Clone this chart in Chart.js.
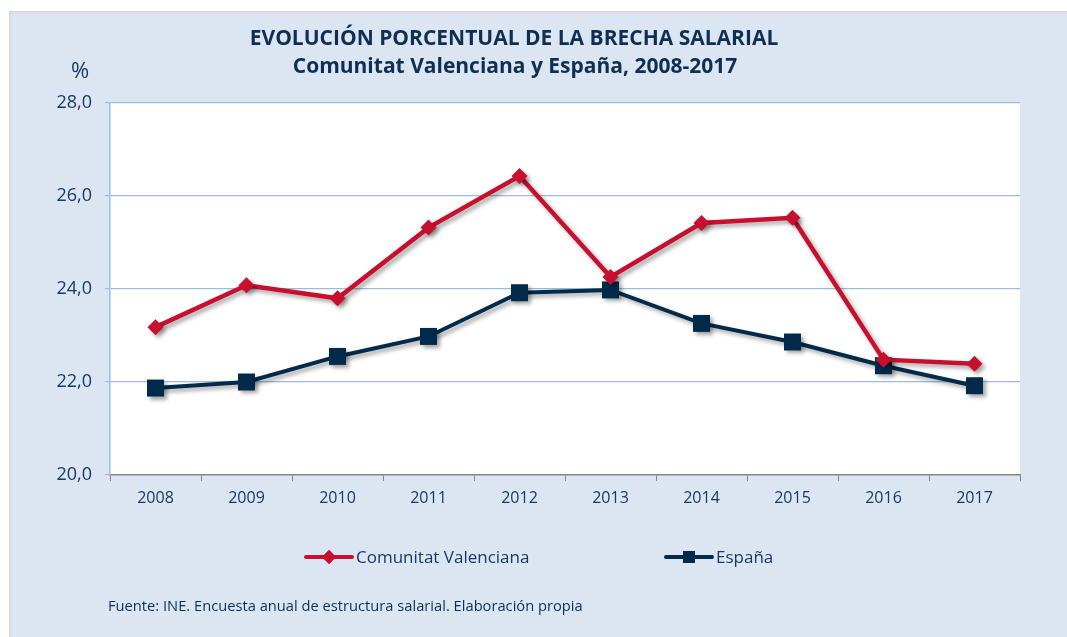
<!DOCTYPE html>
<html>
<head>
<meta charset="utf-8">
<script src="https://cdn.jsdelivr.net/npm/chart.js@4/dist/chart.umd.min.js"></script>
<style>
  html, body { margin: 0; padding: 0; background: #ffffff; }
  #wrap { width: 1067px; height: 637px; position: relative; }
  canvas { display: block; }
</style>
</head>
<body>
<div id="wrap"><canvas id="c" width="1067" height="637"></canvas></div>
<script>
const years = ['2008','2009','2010','2011','2012','2013','2014','2015','2016','2017'];
const comunitatValenciana = [23.18, 24.08, 23.80, 25.32, 26.43, 24.26, 25.42, 25.53, 22.48, 22.39];
const espana = [21.87, 22.00, 22.55, 22.98, 23.92, 23.98, 23.26, 22.86, 22.35, 21.92];
const yTicks = [20, 22, 24, 26, 28];
const titleLines = ['EVOLUCIÓN PORCENTUAL DE LA BRECHA SALARIAL', 'Comunitat Valenciana y España, 2008-2017'];
const yUnit = '%';
const sourceNote = 'Fuente: INE. Encuesta anual de estructura salarial. Elaboración propia';
const seriesNames = ['Comunitat Valenciana', 'España'];

const RED = '#c8102e';
const NAVY = '#022a4b';
const TEXT = '#1b3763';
const PANEL = '#dce6f2';
const GRID = '#9cbbe0';

const decor = {
  id: 'decor',
  beforeDraw(chart) {
    const ctx = chart.ctx, a = chart.chartArea;
    ctx.save();
    ctx.fillStyle = '#ffffff';
    ctx.fillRect(0, 0, chart.width, chart.height);
    ctx.fillStyle = '#d9d9d9';
    ctx.fillRect(9, 11, chart.width - 9, chart.height - 11);
    ctx.fillStyle = PANEL;
    ctx.fillRect(11, 13, chart.width - 11, chart.height - 13);
    ctx.fillStyle = '#ffffff';
    ctx.fillRect(a.left, a.top, a.right - a.left, a.bottom - a.top);
    ctx.restore();
  },
  beforeDatasetDraw(chart) {
    const ctx = chart.ctx;
    ctx.save();
    ctx.shadowColor = 'rgba(0,0,0,0.35)';
    ctx.shadowBlur = 4;
    ctx.shadowOffsetX = 3;
    ctx.shadowOffsetY = 3;
  },
  afterDatasetDraw(chart) {
    chart.ctx.restore();
  },
  afterDraw(chart) {
    const ctx = chart.ctx;
    ctx.save();
    // Title
    ctx.fillStyle = '#0f2f52';
    ctx.textAlign = 'center';
    ctx.textBaseline = 'middle';
    ctx.font = 'bold 21px "Open Sans", sans-serif';
    ctx.fillText(titleLines[0], 514, 39);
    ctx.fillText(titleLines[1], 515, 67);
    // unit
    ctx.fillStyle = TEXT;
    ctx.font = '22px "Open Sans", sans-serif';
    ctx.fillText(yUnit, 80, 72);
    // legend
    const items = [
      { x: 306, name: seriesNames[0], color: RED, style: 'rectRot', r: 7 },
      { x: 666, name: seriesNames[1], color: NAVY, style: 'rect', r: 8.5 }
    ];
    const ly = 557;
    items.forEach(it => {
      ctx.strokeStyle = it.color;
      ctx.lineWidth = 4;
      ctx.lineCap = 'round';
      ctx.beginPath();
      ctx.moveTo(it.x, ly);
      ctx.lineTo(it.x + 46, ly);
      ctx.stroke();
      ctx.fillStyle = it.color;
      Chart.helpers.drawPoint(ctx, { pointStyle: it.style, radius: it.r, borderWidth: 0 }, it.x + 23, ly);
      ctx.fill();
      ctx.fillStyle = TEXT;
      ctx.textAlign = 'left';
      ctx.font = '17px "Open Sans", sans-serif';
      ctx.fillText(it.name, it.x + 50, ly + 1);
    });
    // source
    ctx.fillStyle = '#0f2f52';
    ctx.font = '14.7px "Open Sans", sans-serif';
    ctx.fillText(sourceNote, 108, 607);
    ctx.restore();
  }
};

new Chart(document.getElementById('c'), {
  type: 'line',
  data: {
    labels: years,
    datasets: [
      {
        label: seriesNames[0],
        data: comunitatValenciana,
        borderColor: RED,
        backgroundColor: RED,
        borderWidth: 4.5,
        pointStyle: 'rectRot',
        pointRadius: 8,
        pointHoverRadius: 8,
        pointBorderWidth: 0,
        tension: 0
      },
      {
        label: seriesNames[1],
        data: espana,
        borderColor: NAVY,
        backgroundColor: NAVY,
        borderWidth: 4,
        pointStyle: 'rect',
        pointRadius: 12,
        pointHoverRadius: 12,
        pointBorderWidth: 0,
        tension: 0
      }
    ]
  },
  options: {
    responsive: false,
    animation: false,
    events: [],
    layout: { padding: { left: 50, top: 103, right: 47, bottom: 122 } },
    plugins: { legend: { display: false }, title: { display: false }, tooltip: { enabled: false } },
    scales: {
      x: {
        offset: true,
        grid: { offset: true, drawOnChartArea: false, drawTicks: true, tickLength: 6, color: '#868686' },
        border: { color: '#868686', width: 1.5 },
        ticks: { color: TEXT, font: { family: '"Open Sans", sans-serif', size: 16 }, padding: 8 },
        afterFit(s) { s.height = 40; }
      },
      y: {
        min: 20,
        max: 28,
        afterBuildTicks(s) { s.ticks = yTicks.map(v => ({ value: v })); },
        grid: {
          color: (c) => c.tick && c.tick.value === 20 ? 'rgba(0,0,0,0)' : GRID,
          lineWidth: 1.2,
          drawTicks: true,
          tickLength: 5,
          tickColor: GRID
        },
        border: { color: GRID, width: 1.5 },
        ticks: {
          color: TEXT,
          font: { family: '"Open Sans", sans-serif', size: 18 },
          padding: 13,
          callback: (v) => v.toFixed(1).replace('.', ',')
        },
        afterFit(s) { s.width = 60; }
      }
    }
  },
  plugins: [decor]
});
</script>
</body>
</html>
